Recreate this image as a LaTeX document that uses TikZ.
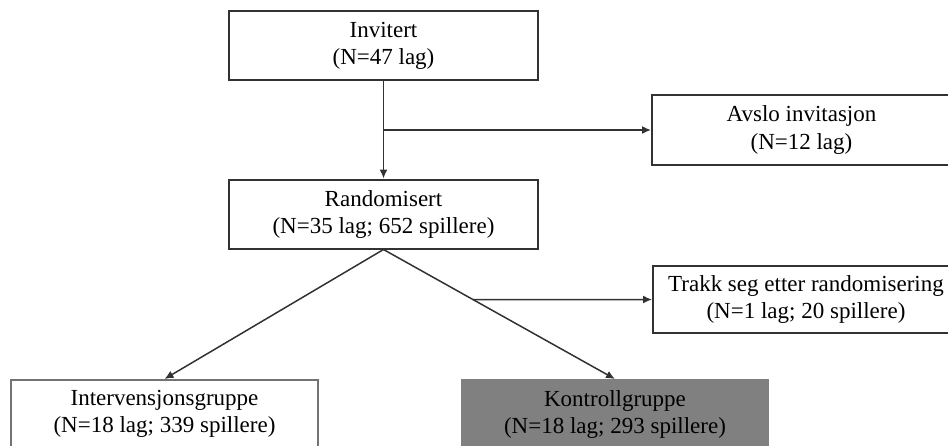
\documentclass[tikz,border=0pt]{standalone}
\usepackage{fontspec}
\setmainfont{Liberation Serif}
\usetikzlibrary{arrows.meta}

\definecolor{KGray}{RGB}{128,128,128}
\definecolor{Frame}{RGB}{50,50,50}

\tikzset{
  flowbox/.style={draw=Frame,line width=1pt,align=center,inner sep=0pt,
                  minimum width=154.5pt,minimum height=34.5pt,
                  font=\fontsize{11.5}{13.5}\selectfont},
  flow/.style={-{Latex[length=4.5pt,width=4pt]},line width=0.75pt,draw=Frame}
}

\begin{document}
\begin{tikzpicture}[x=0.5pt,y=-0.5pt]
            \useasboundingbox (0,0) rectangle (948,445);

            \node[flowbox] (invitert) at (383.5,45.5) {Invitert\\(N=47 lag)};
            \node[flowbox] (random) at (383.5,214) {Randomisert\\(N=35 lag; 652 spillere)};

            \node[flowbox,minimum width=149.5pt,minimum height=35pt] (avslo) at (801.5,130) {Avslo invitasjon\\(N=12 lag)};
            \node[flowbox,minimum width=153pt,minimum height=33.5pt] (trakk) at (806,299.5) {Trakk seg etter randomisering\\(N=1 lag; 20 spillere)};

            \node[flowbox,draw=black!55,minimum width=153.5pt,minimum height=34pt] (interv) at (164.5,414) {Intervensjonsgruppe\\(N=18 lag; 339 spillere)};
            \node[flowbox,draw=KGray,fill=KGray,minimum width=153pt,minimum height=34pt] (kontroll) at (615,414) {Kontrollgruppe\\(N=18 lag; 293 spillere)};

            % forks on the connectors
            \coordinate (fork) at (invitert.south |- avslo.west);
            \coordinate (split) at (intersection of random.south--kontroll.north and trakk.west--trakk.east);

            \begin{scope}[every path/.append style={flow}]
              \draw (invitert.south) -- (random.north);
              \draw (fork) -- (avslo.west);
              \draw (random.south) -- (interv.north);
              \draw (random.south) -- (kontroll.north);
              \draw (split) -- (trakk.west);
            \end{scope}
        \end{tikzpicture}
\end{document}
